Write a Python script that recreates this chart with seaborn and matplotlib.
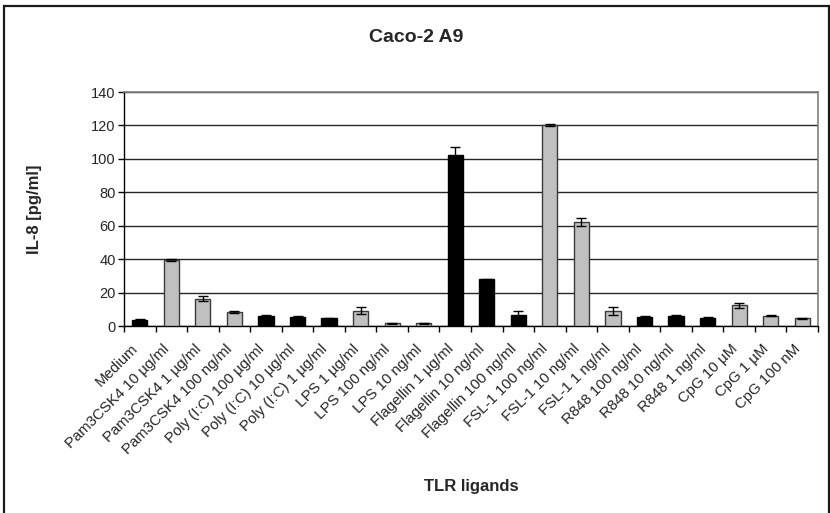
import matplotlib
matplotlib.use("Agg")
import matplotlib.pyplot as plt
import matplotlib.transforms as mtransforms
import seaborn as sns
import pandas as pd
import numpy as np
from matplotlib.patches import Rectangle

# IL-8 secretion of Caco-2 A9 cells after TLR ligand stimulation
ligands = [
    "Medium",
    "Pam3CSK4 10 µg/ml", "Pam3CSK4 1 µg/ml", "Pam3CSK4 100 ng/ml",
    "Poly (I:C) 100 µg/ml", "Poly (I:C) 10 µg/ml", "Poly (I:C) 1 µg/ml",
    "LPS 1 µg/ml", "LPS 100 ng/ml", "LPS 10 ng/ml",
    "Flagellin 1 µg/ml", "Flagellin 10 ng/ml", "Flagellin 100 ng/ml",
    "FSL-1 100 ng/ml", "FSL-1 10 ng/ml", "FSL-1 1 ng/ml",
    "R848 100 ng/ml", "R848 10 ng/ml", "R848 1 ng/ml",
    "CpG 10 µM", "CpG 1 µM", "CpG 100 nM",
]
il8_mean = [3.8, 39.2, 16.2, 8.3, 6.2, 5.6, 4.6, 9.2, 1.6, 1.6,
            102.5, 28.0, 6.5, 120.2, 62.3, 9.2, 5.6, 6.2, 4.8,
            12.5, 6.2, 4.5]
il8_sd = [0.3, 0.6, 1.5, 0.4, 0.3, 0.5, 0.3, 2.0, 0.4, 0.4,
          4.8, 0.4, 2.3, 0.5, 2.3, 2.4, 0.4, 0.6, 0.4,
          1.5, 0.3, 0.3]
ligand_group = ["dark", "light", "light", "light", "dark", "dark", "dark",
                "light", "light", "light", "dark", "dark", "dark",
                "light", "light", "light", "dark", "dark", "dark",
                "light", "light", "light"]

df = pd.DataFrame({"ligand": ligands, "il8": il8_mean, "sd": il8_sd,
                   "group": ligand_group})

fill = {"dark": "#000000", "light": "#c0c0c0"}
edge = {"dark": "#000000", "light": "#3a3a3a"}

sns.set_style("white")
plt.rcParams["font.family"] = ["Liberation Sans", "DejaVu Sans"]

fig = plt.figure(figsize=(8.3, 5.13), dpi=100)
ax = fig.add_axes([124 / 830, 1 - 326 / 513, (818 - 124) / 830, (326 - 92) / 513])

palette = {lig: fill[g] for lig, g in zip(df["ligand"], df["group"])}
sns.barplot(data=df, x="ligand", y="il8", hue="ligand", palette=palette,
            legend=False, width=0.48, ax=ax, zorder=3, saturation=1,
            errorbar=None)
for patch, g in zip(ax.patches, df["group"]):
    patch.set_edgecolor(edge[g])
    patch.set_linewidth(1.0)

x = np.arange(len(df))
ax.errorbar(x, df["il8"], yerr=df["sd"], fmt="none", ecolor="black",
            elinewidth=1.0, capsize=3.6, capthick=1.0, zorder=4)

ax.set_ylim(0, 140)
ax.set_xlim(-0.5, len(df) - 0.5)
ax.set_yticks(range(0, 141, 20))
ax.tick_params(axis="y", direction="out", length=4, width=1, color="black",
               labelsize=10.5, pad=2, left=True)
ax.yaxis.grid(True, color="#262626", linewidth=1.0, zorder=0)
ax.set_axisbelow(True)

ax.set_xticks(x)
ax.set_xticklabels(df["ligand"], rotation=45, ha="right", va="center",
                   rotation_mode="anchor", fontsize=10.8)
ax.tick_params(axis="x", which="major", length=0, pad=15)
shift = mtransforms.ScaledTranslation(-4 / 100, 0, fig.dpi_scale_trans)
for lbl in ax.get_xticklabels():
    lbl.set_transform(lbl.get_transform() + shift)
ax.set_xticks(np.arange(-0.5, len(df), 1.0), minor=True)
ax.tick_params(axis="x", which="minor", direction="out", length=4, width=1,
               color="black", bottom=True)

for side in ("left", "bottom"):
    ax.spines[side].set_color("black")
    ax.spines[side].set_linewidth(1.0)
for side in ("top", "right"):
    ax.spines[side].set_visible(True)
    ax.spines[side].set_color("#808080")
    ax.spines[side].set_linewidth(1.2)

ax.set_xlabel("")
ax.set_ylabel("")
fig.text(416 / 830, 1 - 37 / 513, "Caco-2 A9", ha="center", va="center",
         fontsize=14, fontweight="bold")
fig.text(35 / 830, 1 - 209 / 513, "IL-8 [pg/ml]", ha="center", va="center",
         rotation=90, fontsize=12, fontweight="bold")
fig.text(471 / 830, 1 - 486 / 513, "TLR ligands", ha="center", va="center",
         fontsize=12, fontweight="bold")

# Outer chart frame
fig.patches.append(Rectangle((3.5 / 830, -0.02), (829 - 3.5) / 830,
                             1.02 - 6.5 / 513, transform=fig.transFigure,
                             fill=False, edgecolor="#1a1a1a", linewidth=1.6))

fig.savefig("out.png", dpi=100)
